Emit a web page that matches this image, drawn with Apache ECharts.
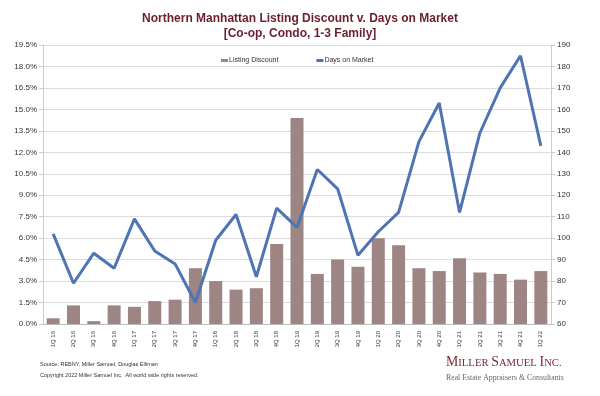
<!DOCTYPE html>
<html><head><meta charset="utf-8">
<script src="https://cdn.jsdelivr.net/npm/echarts@6/dist/echarts.min.js"></script>
<style>html,body{margin:0;padding:0;background:#fff}#c{width:600px;height:396px}</style>
</head><body><div id="c"></div>
<script>
const categories = ['1Q 16','2Q 16','3Q 16','4Q 16','1Q 17','2Q 17','3Q 17','4Q 17','1Q 18','2Q 18','3Q 18','4Q 18','1Q 19','2Q 19','3Q 19','4Q 19','1Q 20','2Q 20','3Q 20','4Q 20','1Q 21','2Q 21','3Q 21','4Q 21','1Q 22'];
const listingDiscount = [0.4,1.3,0.2,1.3,1.2,1.6,1.7,3.9,3.0,2.4,2.5,5.6,14.4,3.5,4.5,4.0,6.0,5.5,3.9,3.7,4.6,3.6,3.5,3.1,3.7];
const daysOnMarket = [102,79,93,86,109,94,88,70,99,111,82,114,105,132,123,92,103,112,145,163,112,149,170,185,143];

const chart = echarts.init(document.getElementById('c'));
const lblColor = '#333';
chart.setOption({
  animation:false,
  title:{text:'Northern Manhattan Listing Discount v. Days on Market\n[Co-op, Condo, 1-3 Family]',left:'center',top:6,
    textStyle:{fontFamily:'Liberation Sans',fontSize:12,fontWeight:'bold',color:'#6b1f2e',lineHeight:15}},
  legend:{top:52,left:216,itemGap:38,itemWidth:7,itemHeight:3,
    textStyle:{fontFamily:'Liberation Sans',fontSize:7,color:'#333',padding:[0,0,0,-4]},
    data:[{name:'Listing Discount',icon:'rect'},{name:'Days on Market',icon:'rect'}]},
  grid:{left:43,right:49,top:45,bottom:72},
  xAxis:{type:'category',data:categories,
    axisLine:{lineStyle:{color:'#bbb'}},axisTick:{show:false},
    axisLabel:{rotate:90,fontFamily:'Liberation Sans',fontSize:6,color:lblColor,margin:7,interval:0}},
  yAxis:[
    {type:'value',min:0,max:19.5,interval:1.5,
      axisLabel:{formatter:v=>v.toFixed(1)+'%',fontFamily:'Liberation Sans',fontSize:8,color:lblColor,margin:6},
      axisLine:{show:true,lineStyle:{color:'#ccc'}},axisTick:{show:true,length:4,lineStyle:{color:'#ccc'}},
      splitLine:{lineStyle:{color:'#dcdcdc'}}},
    {type:'value',min:60,max:190,interval:10,
      axisLabel:{fontFamily:'Liberation Sans',fontSize:8,color:lblColor,margin:6},
      axisLine:{show:true,lineStyle:{color:'#ccc'}},axisTick:{show:true,length:4,lineStyle:{color:'#ccc'}},
      splitLine:{show:false}}
  ],
  series:[
    {name:'Listing Discount',type:'bar',data:listingDiscount,yAxisIndex:0,barWidth:13,
      itemStyle:{color:'#9d8583'}},
    {name:'Days on Market',type:'line',data:daysOnMarket,yAxisIndex:1,symbol:'none',
      lineStyle:{color:'#4f74b3',width:3},itemStyle:{color:'#4f74b3'}}
  ],
  graphic:[
    {type:'text',left:40,top:361,style:{text:'Source: REBNY, Miller Samuel, Douglas Elliman',font:'5.5px "Liberation Sans"',fill:'#333'}},
    {type:'text',left:40,top:372,style:{text:'Copyright 2022 Miller Samuel Inc.  All world wide rights reserved.',font:'5.5px "Liberation Sans"',fill:'#333'}},
    {type:'text',left:446,top:355,style:{
      text:'{b|M}{s|ILLER }{b|S}{s|AMUEL }{b|I}{s|NC.}',
      rich:{b:{font:'13.8px "Liberation Serif"',fill:'#7a2a35',verticalAlign:'bottom'},
            s:{font:'10.7px "Liberation Serif"',fill:'#7a2a35',verticalAlign:'bottom'}}}},
    {type:'text',left:446,top:374,style:{text:'Real Estate Appraisers & Consultants',font:'7.8px "Liberation Serif"',fill:'#666'}}
  ]
});
</script></body></html>
